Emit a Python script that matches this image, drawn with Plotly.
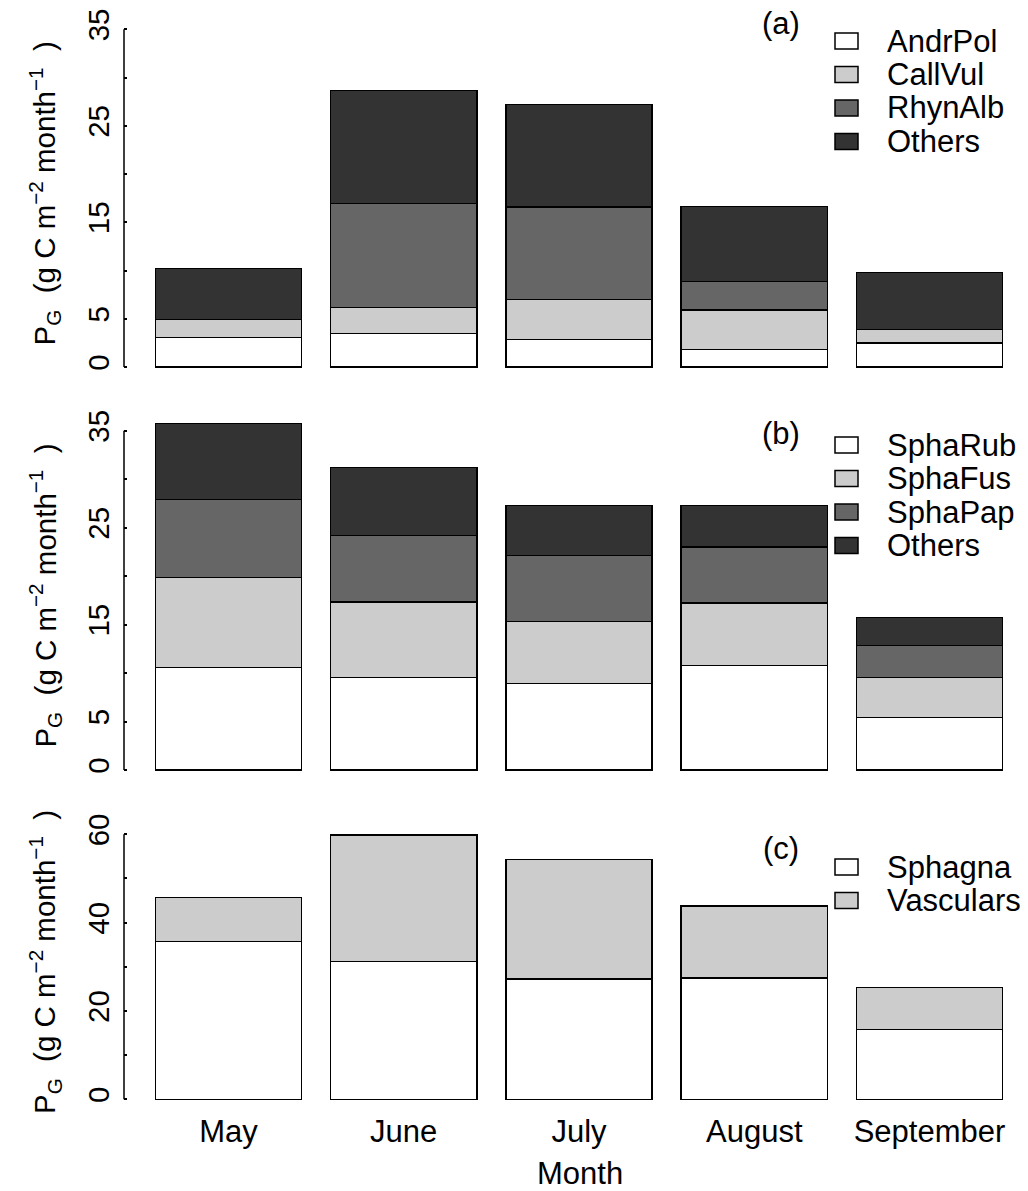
import plotly.graph_objects as go

months = ["May", "June", "July", "August", "September"]
xpos = [0, 1, 2, 3, 4]

# Panel (a) vascular species
a_names = ["AndrPol", "CallVul", "RhynAlb", "Others"]
a_AndrPol = [3.07, 3.49, 2.87, 1.83, 2.49]
a_CallVul = [1.86, 2.69, 4.14, 4.10, 1.42]
a_RhynAlb = [0.0, 10.79, 9.57, 2.95, 0.0]
a_Others = [5.30, 11.71, 10.65, 7.73, 5.86]

# Panel (b) Sphagnum species
b_names = ["SphaRub", "SphaFus", "SphaPap", "Others"]
b_SphaRub = [10.59, 9.56, 8.94, 10.80, 5.44]
b_SphaFus = [9.29, 7.77, 6.40, 6.43, 4.08]
b_SphaPap = [8.04, 6.84, 6.81, 5.77, 3.34]
b_Others = [7.84, 7.05, 5.15, 4.30, 2.89]

# Panel (c) functional groups
c_names = ["Sphagna", "Vasculars"]
c_Sphagna = [35.7, 31.2, 27.2, 27.5, 15.8]
c_Vasculars = [10.0, 28.6, 27.1, 16.3, 9.5]

# y-axis ticks / labels
ab_ticks = [0, 5, 15, 25, 35]
c_ticks = [0, 20, 40, 60]

fills4 = ["#FFFFFF", "#CCCCCC", "#666666", "#333333"]
fills2 = ["#FFFFFF", "#CCCCCC"]

W, H = 1028, 1191
FONT = "Liberation Sans, Arial, sans-serif"
FS = 31      # horizontal text
FSR = 29.5   # rotated text


def px_x(p):
    return p / W


def px_y(p):
    return 1 - p / H


fig = go.Figure()

panels = [
    ("x", "y", a_names, [a_AndrPol, a_CallVul, a_RhynAlb, a_Others], fills4),
    ("x2", "y2", b_names, [b_SphaRub, b_SphaFus, b_SphaPap, b_Others], fills4),
    ("x3", "y3", c_names, [c_Sphagna, c_Vasculars], fills2),
]
for xa, ya, names, series, fills in panels:
    for nm, vals, col in zip(names, series, fills):
        fig.add_trace(go.Bar(
            x=xpos, y=vals, name=nm, xaxis=xa, yaxis=ya,
            width=0.835, marker=dict(color=col, line=dict(color="black", width=1.5)),
            showlegend=False,
        ))

xl = px_x(124)
xrange_ = [-0.596, 4.562]
doms = [
    (px_y(380.5), px_y(15.8)),
    (px_y(783.6), px_y(417.1)),
    (px_y(1109.9), px_y(823.7)),
]
yr = [[-1.4, 36.4], [-1.4, 36.4], [-2.4, 62.4]]
ytv = [ab_ticks, ab_ticks, c_ticks]
ydt = [5, 5, 10]
ytop = [35, 35, 60]

layout = dict(
    width=W, height=H, margin=dict(l=0, r=0, t=0, b=0),
    paper_bgcolor="white", plot_bgcolor="white", barmode="stack",
    font=dict(family=FONT, size=FS, color="black"),
    showlegend=False,
)
for i in range(3):
    sx = "" if i == 0 else str(i + 1)
    xa = dict(
        domain=[xl, 1], range=xrange_, anchor="y" + sx, showgrid=False, zeroline=False,
        showline=False, ticks="", tickfont=dict(size=FS), automargin=False,
    )
    if i == 2:
        xa.update(tickvals=xpos, ticktext=months, showticklabels=True)
    else:
        xa.update(tickvals=[], showticklabels=False)
    layout["xaxis" + sx] = xa
    layout["yaxis" + sx] = dict(
        domain=list(doms[i]), range=yr[i], anchor="x" + sx, showgrid=False, zeroline=False,
        showline=False, ticks="inside", ticklen=3, tickwidth=1.5, tickcolor="black",
        tickvals=ytv[i], ticktext=[str(v) for v in ytv[i]], tickangle=-90,
        tickfont=dict(size=FSR), ticklabelstandoff=8, automargin=False,
        minor=dict(ticks="inside", ticklen=3, tickwidth=1.5, tickcolor="black",
                   tick0=0, dtick=ydt[i], showgrid=False),
    )

fig.update_layout(**layout)

# y axis lines (R style, spanning only the tick range)
for i in range(3):
    sx = "" if i == 0 else str(i + 1)
    fig.add_shape(type="line", xref="paper", yref="y" + sx, x0=xl, x1=xl, y0=0, y1=ytop[i],
                  line=dict(color="black", width=1.5))

ytitle = ("P<sub>G</sub>\u00a0\u00a0(g C m<sup>\u22122</sup>\u00a0month<sup>\u22121</sup>\u00a0\u00a0)")
for i in range(3):
    fig.add_annotation(text=ytitle, xref="paper", yref="paper", x=px_x(45),
                       y=(doms[i][0] + doms[i][1]) / 2 + 0.004, textangle=-90, showarrow=False,
                       font=dict(size=FSR), xanchor="center", yanchor="middle")

# x axis title
fig.add_annotation(text="Month", xref="paper", yref="paper", x=px_x(580), y=px_y(1173),
                   showarrow=False, font=dict(size=FS), xanchor="center", yanchor="middle")

# panel labels
for lab, ypx in [("(a)", 24), ("(b)", 434), ("(c)", 848)]:
    fig.add_annotation(text=lab, xref="paper", yref="paper", x=px_x(781), y=px_y(ypx),
                       showarrow=False, font=dict(size=FS), xanchor="center", yanchor="middle")

# legends (R-style boxes with labels)
legend_specs = [(a_names, fills4, 41), (b_names, fills4, 445), (c_names, fills2, 867)]
ROW = 33.5
for names, fills, y0 in legend_specs:
    for k, (nm, col) in enumerate(zip(names, fills)):
        yc = y0 + k * ROW
        fig.add_shape(type="rect", xref="paper", yref="paper",
                      x0=px_x(835), x1=px_x(858), y0=px_y(yc - 8), y1=px_y(yc + 8),
                      fillcolor=col, line=dict(color="black", width=1.5))
        fig.add_annotation(text=nm, xref="paper", yref="paper", x=px_x(885), y=px_y(yc),
                           showarrow=False, font=dict(size=FS), xanchor="left",
                           yanchor="middle")

fig.write_html("out.html", config={"displayModeBar": False},
               post_script="document.body.style.margin='0';")
